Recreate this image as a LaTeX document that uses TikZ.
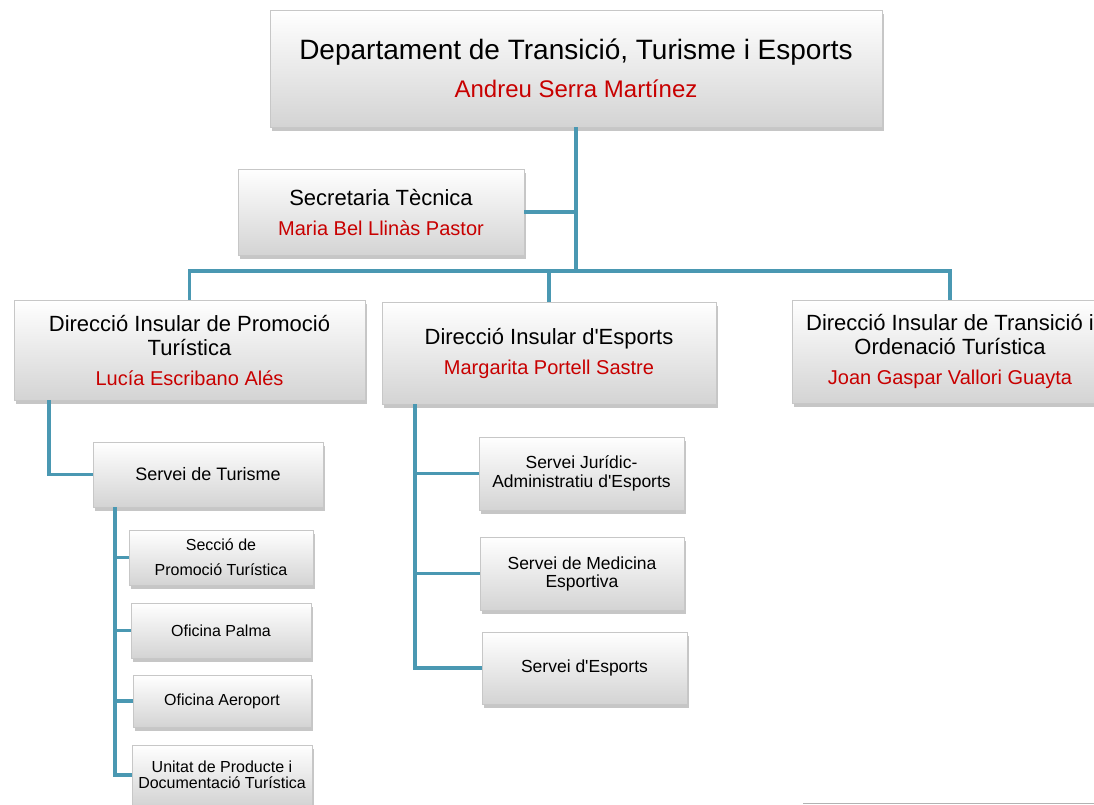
\documentclass[tikz,border=0pt]{standalone}
\usepackage{fontspec}
\setmainfont{Liberation Sans}[Ligatures=TeXOff]
\usetikzlibrary{shadows}
\definecolor{linkblue}{RGB}{74,152,178}
\definecolor{namered}{RGB}{200,0,0}
\tikzset{
  box/.style={draw=black!22, top color=white, bottom color=black!17,
    drop shadow={shadow xshift=2pt, shadow yshift=-3.5pt, opacity=0.45},
    align=center, inner sep=0pt},
  link/.style={draw=linkblue, line width=3.5pt},
}
\newcommand{\who}[2]{\textcolor{namered}{\fontsize{#1}{#1}\selectfont #2}}
\begin{document}
\begin{tikzpicture}[x=1pt,y=-1pt]
      \clip (0,0) rectangle (1094,804);
      \node[box, minimum width=612pt, minimum height=117pt, font=\fontsize{28}{34}\selectfont] (dep) at (576,68.5)
        {Departament de Transició, Turisme i Esports\\[4pt]\who{24}{Andreu Serra Martínez}};
      \node[box, minimum width=286pt, minimum height=86pt, font=\fontsize{22}{24}\selectfont] (sec) at (381,212)
        {Secretaria Tècnica\\[6pt]\who{20}{Maria Bel Llinàs Pastor}};
      \node[box, minimum width=351pt, minimum height=100pt, font=\fontsize{22}{24}\selectfont] (d1) at (189.5,350)
        {Direcció Insular de Promoció\\Turística\\[6pt]\who{20}{Lucía Escribano Alés}};
      \node[box, minimum width=334pt, minimum height=102pt, font=\fontsize{22}{24}\selectfont] (d2) at (549,353)
        {Direcció Insular d'Esports\\[6pt]\who{20}{Margarita Portell Sastre}};
      \node[box, minimum width=316pt, minimum height=103pt, font=\fontsize{22}{24}\selectfont] (d3) at (950,351.5)
        {Direcció Insular de Transició i\\Ordenació Turística\\[6pt]\who{20}{Joan Gaspar Vallori Guayta}};
      \node[box, minimum width=230pt, minimum height=65pt, font=\fontsize{18}{20}\selectfont] (tur) at (208,474.5) {Servei de Turisme};
      \node[box, minimum width=184pt, minimum height=55pt, font=\fontsize{16}{19}\selectfont] (s1) at (221,557.5) {Secció de\\[6pt]Promoció Turística};
      \node[box, minimum width=180pt, minimum height=55pt, font=\fontsize{16}{19}\selectfont] (s2) at (221,630.5) {Oficina Palma};
      \node[box, minimum width=178pt, minimum height=52pt, font=\fontsize{16}{19}\selectfont] (s3) at (222,701) {Oficina Aeroport};
      \node[box, minimum width=180pt, minimum height=60pt, font=\fontsize{16}{16}\selectfont] (s4) at (222,775) {Unitat de Producte i\\Documentació Turística};
      \node[box, minimum width=205pt, minimum height=73pt, font=\fontsize{17.5}{19}\selectfont] (e1) at (581.5,473.5) {Servei Jurídic-\\Administratiu d'Esports};
      \node[box, minimum width=204pt, minimum height=73pt, font=\fontsize{17.5}{18}\selectfont] (e2) at (582,573.5) {Servei de Medicina\\Esportiva};
      \node[box, minimum width=205pt, minimum height=72pt, font=\fontsize{17.5}{19}\selectfont] (e3) at (584.5,668) {Servei d'Esports};
      \coordinate (bus) at (576,271);
      \draw [link] (dep.south) -- (bus);
      \draw [link] (sec.east) -- (sec.east -| dep.south);
      \draw [link] (d1.north) |- (bus) -| (d3.north);
      \draw [link] (d2.north) -- (d2.north |- bus);
      \draw [link] ([xshift=35pt]d1.south west) |- (tur.west);
      \draw [link] ([xshift=22pt]tur.south west) |- (s1.west);
      \draw [link] ([xshift=22pt]tur.south west) |- (s2.west);
      \draw [link] ([xshift=22pt]tur.south west) |- (s3.west);
      \draw [link] ([xshift=22pt]tur.south west) |- (s4.west);
      \draw [link] ([xshift=33pt]d2.south west) |- (e1.west);
      \draw [link] ([xshift=33pt]d2.south west) |- (e2.west);
      \draw [link] ([xshift=33pt]d2.south west) |- (e3.west);
      \draw [black!30, line width=1pt] (803,803) -- (1094,803);
    \end{tikzpicture}
\end{document}
